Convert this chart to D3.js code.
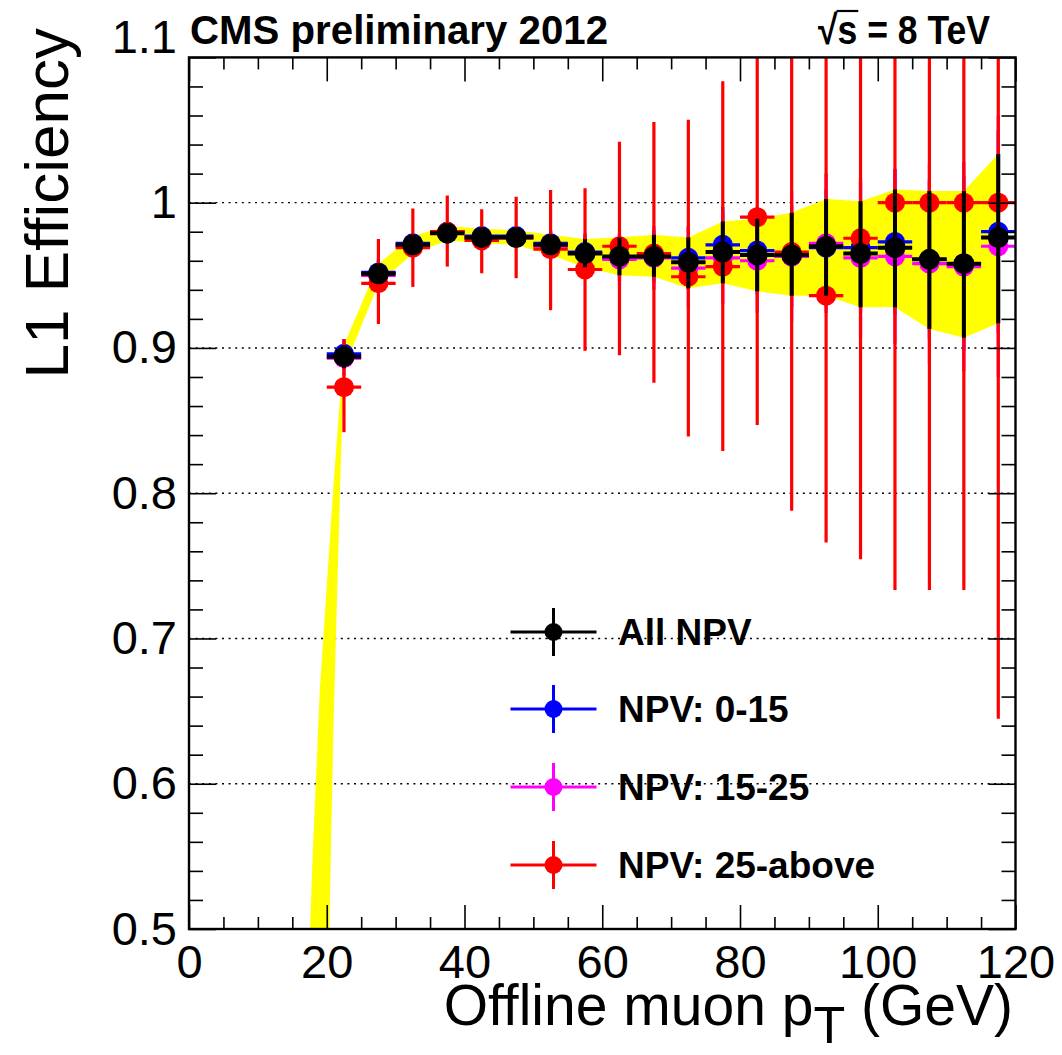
<!DOCTYPE html>
<html>
<head>
<meta charset="utf-8">
<script src="https://cdn.jsdelivr.net/npm/d3@7"></script>
<style>
  body { margin: 0; background: #fff; }
  svg { display: block; }
  text { font-family: "Liberation Sans", Arial, Helvetica, sans-serif; }
</style>
</head>
<body>
<svg id="chart" width="1062" height="1055"></svg>
<script>
// ---- data: L1 muon trigger efficiency vs offline muon pT, in bins of 5 GeV ----
const binCenters = [22.5, 27.5, 32.5, 37.5, 42.5, 47.5, 52.5, 57.5, 62.5, 67.5,
                    72.5, 77.5, 82.5, 87.5, 92.5, 97.5, 102.5, 107.5, 112.5, 117.5];
const binHalfWidth = 2.5;

// All NPV: efficiency and its uncertainty interval (also drawn as the yellow band)
const allNPV   = [0.894, 0.951, 0.971, 0.979, 0.976, 0.976, 0.971, 0.965, 0.963, 0.963,
                  0.959, 0.966, 0.964, 0.964, 0.970, 0.965, 0.969, 0.961, 0.958, 0.976];
const allNPVLo = [0.886, 0.944, 0.965, 0.974, 0.972, 0.971, 0.964, 0.9555, 0.950, 0.949,
                  0.941, 0.9445, 0.939, 0.936, 0.936, 0.928, 0.928, 0.913, 0.907, 0.917];
const allNPVHi = [0.902, 0.958, 0.977, 0.984, 0.982, 0.981, 0.978, 0.975, 0.976, 0.978,
                  0.976, 0.987, 0.989, 0.993, 1.0025, 1.001, 1.009, 1.008, 1.008, 1.0335];

// turn-on part of the band below the first visible bin
const bandLeadX  = [17.5, 18, 19, 20, 21, 22];
const bandLeadLo = [-0.10, 0.00, 0.20, 0.414, 0.644, 0.814];
const bandLeadHi = [0.491, 0.556, 0.665, 0.736, 0.807, 0.870];

// NPV 0-15
const npv0to15    = [0.896, 0.952, 0.972, 0.980, 0.977, 0.977, 0.972, 0.966, 0.962, 0.963,
                     0.962, 0.971, 0.967, 0.963, 0.969, 0.969, 0.973, 0.961, 0.958, 0.980];
const npv0to15Err = [0.010, 0.009, 0.007, 0.006, 0.006, 0.006, 0.009, 0.012, 0.016, 0.018,
                     0.022, 0.026, 0.030, 0.035, 0.040, 0.045, 0.050, 0.055, 0.060, 0.070];

// NPV 15-25
const npv15to25    = [0.893, 0.950, 0.970, 0.979, 0.976, 0.976, 0.970, 0.965, 0.961, 0.962,
                      0.955, 0.962, 0.960, 0.963, 0.972, 0.962, 0.963, 0.958, 0.956, 0.970];
const npv15to25Err = [0.012, 0.010, 0.008, 0.006, 0.006, 0.007, 0.010, 0.014, 0.018, 0.022,
                      0.028, 0.032, 0.036, 0.045, 0.048, 0.055, 0.060, 0.069, 0.072, 0.090];

// NPV 25-above
const npv25up   = [0.873, 0.9445, 0.969, 0.980, 0.974, 0.976, 0.968, 0.954, 0.970, 0.965,
                   0.949, 0.956, 0.990, 0.966, 0.936, 0.9755, 1.000, 1.000, 1.000, 1.000];
const npv25upLo = [0.842, 0.9165, 0.942, 0.956, 0.9514, 0.948, 0.926, 0.898, 0.895, 0.876,
                   0.839, 0.829, 0.847, 0.788, 0.766, 0.7545, 0.7334, 0.7334, 0.7334, 0.6447];
const npv25upHi = [0.906, 0.975, 0.996, 1.005, 0.9955, 1.004, 1.0087, 1.010, 1.042, 1.0555,
                   1.057, 1.0836, 1.16, 1.17, 1.18, 1.19, 1.20, 1.20, 1.20, 1.25];

const xMajorTicks = [0, 20, 40, 60, 80, 100, 120];
const yMajorTicks = [0.5, 0.6, 0.7, 0.8, 0.9, 1.0, 1.1];
const gridValues  = [0.6, 0.7, 0.8, 0.9, 1.0];
const legendLabels = ["All NPV", "NPV: 0-15", "NPV: 15-25", "NPV: 25-above"];
const seriesColors = ["#000000", "#0000ff", "#ff00ff", "#ff0000"];

// ---- layout ----
const svg = d3.select("#chart");
const plot = { left: 189, right: 1015.5, top: 57.4, bottom: 929 };
const x = d3.scaleLinear().domain([0, 120]).range([plot.left, plot.right]);
const y = d3.scaleLinear().domain([0.5, 1.1]).range([plot.bottom, plot.top]);

svg.append("defs").append("clipPath").attr("id", "plotClip")
  .append("rect")
  .attr("x", plot.left).attr("y", plot.top)
  .attr("width", plot.right - plot.left).attr("height", plot.bottom - plot.top);

// dotted horizontal grid
svg.append("g").selectAll("line").data(gridValues).join("line")
  .attr("x1", plot.left).attr("x2", plot.right)
  .attr("y1", d => y(d)).attr("y2", d => y(d))
  .attr("stroke", "#000").attr("stroke-width", 1.4)
  .attr("stroke-dasharray", "2,4.6");

const content = svg.append("g").attr("clip-path", "url(#plotClip)");

// yellow uncertainty band of the All NPV measurement
const bandPts = bandLeadX.map((bx, i) => ({ x: bx, lo: bandLeadLo[i], hi: bandLeadHi[i] }))
  .concat(binCenters.map((bx, i) => ({ x: bx, lo: allNPVLo[i], hi: allNPVHi[i] })));
content.append("path").datum(bandPts)
  .attr("fill", "#ffff00").attr("stroke", "none")
  .attr("d", d3.area().x(d => x(d.x)).y0(d => y(d.lo)).y1(d => y(d.hi)));

function makeSeries(vals, lo, hi) {
  return binCenters.map((c, i) => ({ x: c, v: vals[i], lo: lo[i], hi: hi[i] }));
}
const seriesAll = makeSeries(allNPV, allNPVLo, allNPVHi);
const series0   = makeSeries(npv0to15, npv0to15.map((v, i) => v - npv0to15Err[i]), npv0to15.map((v, i) => v + npv0to15Err[i]));
const series15  = makeSeries(npv15to25, npv15to25.map((v, i) => v - npv15to25Err[i]), npv15to25.map((v, i) => v + npv15to25Err[i]));
const series25  = makeSeries(npv25up, npv25upLo, npv25upHi);

function drawSeries(data, color, lw, r) {
  const g = content.append("g");
  g.selectAll("line.v").data(data).join("line").attr("class", "v")
    .attr("x1", d => x(d.x)).attr("x2", d => x(d.x))
    .attr("y1", d => y(d.lo)).attr("y2", d => y(d.hi))
    .attr("stroke", color).attr("stroke-width", lw);
  g.selectAll("line.h").data(data).join("line").attr("class", "h")
    .attr("x1", d => x(d.x - binHalfWidth)).attr("x2", d => x(d.x + binHalfWidth))
    .attr("y1", d => y(d.v)).attr("y2", d => y(d.v))
    .attr("stroke", color).attr("stroke-width", lw);
  g.selectAll("circle").data(data).join("circle")
    .attr("cx", d => x(d.x)).attr("cy", d => y(d.v)).attr("r", r)
    .attr("fill", color);
}
drawSeries(series0, seriesColors[1], 3.2, 10);
drawSeries(series15, seriesColors[2], 3.2, 10);
drawSeries(series25, seriesColors[3], 3.2, 10);
drawSeries(seriesAll, seriesColors[0], 4, 10.5);

// ---- axes (ticks point inwards on all four sides) ----
const xMinor = d3.range(0, 121, 5).filter(v => v % 20 !== 0);
const yMinor = d3.range(0, 31).map(i => +(0.5 + i * 0.02).toFixed(2))
  .filter(v => Math.abs(v * 10 - Math.round(v * 10)) > 1e-6);

function styleAxis(g) {
  g.select(".domain").remove();
  g.selectAll(".tick line").attr("stroke", "#000").attr("stroke-width", 1.6);
  g.selectAll("text").attr("fill", "#000").attr("font-size", 47)
    .attr("font-family", "'Liberation Sans', Arial, sans-serif");
}
// bottom
svg.append("g").attr("transform", `translate(0,${plot.bottom})`)
  .call(d3.axisBottom(x).tickValues(xMajorTicks).tickSize(-24).tickPadding(16).tickFormat(d3.format("d")))
  .call(styleAxis);
svg.append("g").attr("transform", `translate(0,${plot.bottom})`)
  .call(d3.axisBottom(x).tickValues(xMinor).tickSize(-12).tickFormat(""))
  .call(styleAxis);
// top
svg.append("g").attr("transform", `translate(0,${plot.top})`)
  .call(d3.axisTop(x).tickValues(xMajorTicks).tickSize(-24).tickFormat(""))
  .call(styleAxis);
svg.append("g").attr("transform", `translate(0,${plot.top})`)
  .call(d3.axisTop(x).tickValues(xMinor).tickSize(-12).tickFormat(""))
  .call(styleAxis);
// left
const yAxisG = svg.append("g").attr("transform", `translate(${plot.left},0)`)
  .call(d3.axisLeft(y).tickValues(yMajorTicks).tickSize(-27).tickPadding(12)
    .tickFormat(d => String(+d.toFixed(1))))
  .call(styleAxis);
// the label at the top end of the axis sits above the frame corner
yAxisG.selectAll(".tick").filter(d => d === 1.1).select("text").attr("dy", "-0.1em");
svg.append("g").attr("transform", `translate(${plot.left},0)`)
  .call(d3.axisLeft(y).tickValues(yMinor).tickSize(-14).tickFormat(""))
  .call(styleAxis);
// right
svg.append("g").attr("transform", `translate(${plot.right},0)`)
  .call(d3.axisRight(y).tickValues(yMajorTicks).tickSize(-27).tickFormat(""))
  .call(styleAxis);
svg.append("g").attr("transform", `translate(${plot.right},0)`)
  .call(d3.axisRight(y).tickValues(yMinor).tickSize(-14).tickFormat(""))
  .call(styleAxis);

// frame
svg.append("rect")
  .attr("x", plot.left).attr("y", plot.top)
  .attr("width", plot.right - plot.left).attr("height", plot.bottom - plot.top)
  .attr("fill", "none").attr("stroke", "#000").attr("stroke-width", 2.4);

// ---- legend ----
const legendRows = [632, 709, 787, 865];
const leg = svg.append("g");
legendLabels.forEach((label, i) => {
  const ly = legendRows[i], lx = 553.5, col = seriesColors[i];
  leg.append("line").attr("x1", lx - 43).attr("x2", lx + 43).attr("y1", ly).attr("y2", ly)
    .attr("stroke", col).attr("stroke-width", 3);
  leg.append("line").attr("x1", lx).attr("x2", lx).attr("y1", ly - 24).attr("y2", ly + 24)
    .attr("stroke", col).attr("stroke-width", 3);
  leg.append("circle").attr("cx", lx).attr("cy", ly).attr("r", 9).attr("fill", col);
  leg.append("text").attr("x", 618).attr("y", ly + 13)
    .attr("font-size", 37).attr("font-weight", "bold").attr("fill", "#000")
    .text(label);
});

// ---- titles ----
svg.append("text").attr("x", 190).attr("y", 44)
  .attr("font-size", 41).attr("font-weight", "bold")
  .attr("textLength", 418).attr("lengthAdjust", "spacingAndGlyphs")
  .text("CMS preliminary 2012");

const energy = svg.append("text").attr("x", 818).attr("y", 44)
  .attr("font-size", 41).attr("font-weight", "bold")
  .attr("textLength", 172).attr("lengthAdjust", "spacingAndGlyphs")
  .text("\u221As = 8 TeV");
// overbar of the square root, spanning the "s"
const sStart = energy.node().getStartPositionOfChar(1).x;
const sEnd = energy.node().getEndPositionOfChar(1).x;
svg.append("line").attr("x1", sStart - 1).attr("x2", sEnd + 1)
  .attr("y1", 44 - 33).attr("y2", 44 - 33)
  .attr("stroke", "#000").attr("stroke-width", 2.2);

svg.append("text")
  .attr("transform", "translate(68,28) rotate(-90)")
  .attr("text-anchor", "end").attr("font-size", 62)
  .text("L1 Efficiency");

const xTitle = svg.append("text").attr("x", 1013).attr("y", 1025)
  .attr("text-anchor", "end").attr("font-size", 57);
xTitle.append("tspan").text("Offline muon p");
xTitle.append("tspan").attr("dy", 18).attr("font-size", 52).text("T");
xTitle.append("tspan").attr("dy", -18).text(" (GeV)");
</script>
</body>
</html>
